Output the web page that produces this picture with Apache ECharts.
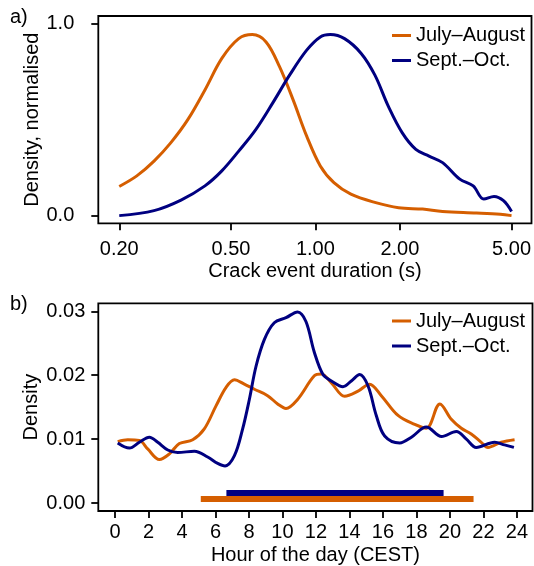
<!DOCTYPE html>
<html>
<head>
<meta charset="utf-8">
<script src="https://cdn.jsdelivr.net/npm/echarts@6/dist/echarts.min.js"></script>
<style>
html,body{margin:0;padding:0;background:#fff;}
#c{width:534px;height:566px;}
</style>
</head>
<body>
<div id="c"></div>
<script>
// ---- Panel a) crack event duration densities (normalised) ----
const durJA  = [0.2,0.231,0.266,0.305,0.351,0.404,0.464,0.533,0.596,0.667,0.745,0.833,0.931,1.041,1.164,1.338,1.628,1.98,2.41,2.84,3.75,4.56,5.0];
const densJA = [0.152,0.207,0.284,0.379,0.5,0.655,0.819,0.922,0.943,0.905,0.776,0.603,0.414,0.259,0.172,0.112,0.069,0.041,0.034,0.022,0.014,0.007,0.0];
const durSO  = [0.2,0.266,0.332,0.404,0.464,0.533,0.613,0.704,0.81,0.931,1.041,1.13,1.27,1.456,1.628,1.82,2.04,2.28,2.54,2.84,3.27,3.65,3.98,4.33,4.68,5.0];
const densSO = [0,0.026,0.081,0.155,0.233,0.336,0.448,0.586,0.733,0.862,0.931,0.943,0.922,0.845,0.733,0.569,0.431,0.345,0.31,0.276,0.19,0.155,0.086,0.1,0.078,0.022];
const durTicks = [0.2,0.5,1,2,5];
const normTicks = [0,1];

// ---- Panel b) hour of day densities ----
const hourJA  = [0.16,0.76,1.45,1.95,2.65,3.25,3.84,4.64,5.33,6.03,6.63,7.13,7.72,8.32,9.11,9.71,10.21,10.9,11.9,12.32,12.92,13.71,14.51,15.2,15.9,16.9,17.9,18.59,19.4,20.08,20.68,21.27,21.87,22.27,23.06,23.86];
const hdensJA = [0.0096,0.0099,0.0098,0.00846,0.0068,0.0077,0.0093,0.0099,0.0116,0.0152,0.0181,0.0193,0.0186,0.0178,0.0168,0.0155,0.0148,0.0162,0.0199,0.0202,0.0188,0.0167,0.0175,0.0186,0.0168,0.0137,0.0123,0.0117,0.0155,0.0131,0.0117,0.0108,0.0095,0.0087,0.0095,0.0099];
const hourSO  = [0.16,0.86,1.45,2.05,2.55,3.15,3.74,4.74,5.53,6.13,6.57,7.13,7.62,8.02,8.42,8.92,9.51,10.21,10.9,11.4,11.9,12.42,12.92,13.61,14.11,14.61,15.11,15.6,16.1,17.0,17.7,18.59,19.5,20.38,20.98,21.57,22.67,23.26,23.82];
const hdensSO = [0.0094,0.0086,0.0095,0.0103,0.0095,0.0083,0.0079,0.0081,0.0072,0.0062,0.0058,0.0074,0.0116,0.0162,0.0214,0.0256,0.0282,0.0290,0.0299,0.0284,0.0236,0.0201,0.0191,0.0182,0.0191,0.0201,0.0183,0.0137,0.0105,0.0094,0.0103,0.0119,0.0104,0.0112,0.0100,0.0087,0.0095,0.0091,0.0087];
const hourTicks = [0,2,4,6,8,10,12,14,16,18,20,22,24];
const densTicks = [0,0.01,0.02,0.03];
// activity ranges (bars) and their heights
const rangeJA = [5.12,21.41];
const rangeSO = [6.65,19.62];
const rangeLevelJA = 0.00062;
const rangeLevelSO = 0.00156;

const names = ['July–August','Sept.–Oct.'];
const cJA = '#D55E00', cSO = '#000080';
const FONT = "'Liberation Sans', Arial, Helvetica, sans-serif";
const FS = 20;

function zip(a,b){return a.map((v,i)=>[v,b[i]]);}

const chart = echarts.init(document.getElementById('c'), null, {renderer:'canvas'});
const axisCommon = {
  axisLine:{show:false,onZero:false},
  splitLine:{show:false},
  axisTick:{show:true,inside:false,length:7,lineStyle:{color:'#000',width:1.8}},
  nameLocation:'middle',
  nameMoveOverlap:false,
  nameTextStyle:{fontFamily:FONT,fontSize:FS,color:'#000'}
};
const lbl = {fontFamily:FONT,fontSize:FS,color:'#000'};
const legendCommon = {data:names,orient:'vertical',left:392,icon:'rect',itemWidth:19,itemHeight:3,itemGap:5,padding:0,
  textStyle:{fontFamily:FONT,fontSize:FS,color:'#000',lineHeight:20},selectedMode:false};

chart.setOption({
  animation:false,
  backgroundColor:'#fff',
  textStyle:{fontFamily:FONT},
  grid:[
    {left:98.3,right:1.5,top:16,height:207.3,show:true,borderColor:'#000',borderWidth:1.8,containLabel:false},
    {left:98.3,right:1.5,top:303.3,height:208.7,show:true,borderColor:'#000',borderWidth:1.8,containLabel:false}
  ],
  legend:[
    Object.assign({},legendCommon,{top:25.5}),
    Object.assign({},legendCommon,{top:311})
  ],
  xAxis:[
    Object.assign({},axisCommon,{gridIndex:0,type:'log',logBase:10,min:0.1684,max:5.89,
      name:'Crack event duration (s)',nameGap:38.5,
      axisTick:Object.assign({},axisCommon.axisTick,{customValues:durTicks}),
      axisLabel:Object.assign({},lbl,{margin:16,customValues:durTicks,formatter:v=>Number(v).toFixed(2)})}),
    Object.assign({},axisCommon,{gridIndex:1,type:'value',min:-1,max:24.93,
      name:'Hour of the day (CEST)',nameGap:34,
      axisTick:Object.assign({},axisCommon.axisTick,{customValues:hourTicks}),
      axisLabel:Object.assign({},lbl,{margin:11,customValues:hourTicks,formatter:v=>String(Math.round(v))})})
  ],
  yAxis:[
    Object.assign({},axisCommon,{gridIndex:0,type:'value',min:-0.04,max:1.04,
      name:'Density, normalised',nameGap:56,
      axisTick:Object.assign({},axisCommon.axisTick,{customValues:normTicks}),
      axisLabel:Object.assign({},lbl,{margin:24,customValues:normTicks,formatter:v=>Number(v).toFixed(1)})}),
    Object.assign({},axisCommon,{gridIndex:1,type:'value',min:-0.00125,max:0.03125,
      name:'Density',nameGap:57,
      axisTick:Object.assign({},axisCommon.axisTick,{customValues:densTicks}),
      axisLabel:Object.assign({},lbl,{margin:13,customValues:densTicks,formatter:v=>Number(v).toFixed(2)})})
  ],
  graphic:[
    {type:'text',left:10,top:7,style:{text:'a)',font:FS+'px '+FONT,fill:'#000'}},
    {type:'text',left:10,top:294,style:{text:'b)',font:FS+'px '+FONT,fill:'#000'}}
  ],
  series:[
    {name:names[0],type:'line',xAxisIndex:0,yAxisIndex:0,data:zip(durJA,densJA),smooth:0.35,showSymbol:false,symbol:'none',
     lineStyle:{color:cJA,width:3},itemStyle:{color:cJA}},
    {name:names[1],type:'line',xAxisIndex:0,yAxisIndex:0,data:zip(durSO,densSO),smooth:0.35,showSymbol:false,symbol:'none',
     lineStyle:{color:cSO,width:3},itemStyle:{color:cSO}},
    {name:names[0],type:'line',xAxisIndex:1,yAxisIndex:1,data:zip(hourJA,hdensJA),smooth:0.35,showSymbol:false,symbol:'none',
     lineStyle:{color:cJA,width:3},itemStyle:{color:cJA}},
    {name:names[1],type:'line',xAxisIndex:1,yAxisIndex:1,data:zip(hourSO,hdensSO),smooth:0.35,showSymbol:false,symbol:'none',
     lineStyle:{color:cSO,width:3},itemStyle:{color:cSO}},
    {name:'range JA',type:'line',xAxisIndex:1,yAxisIndex:1,data:rangeJA.map(h=>[h,rangeLevelJA]),showSymbol:false,symbol:'none',
     lineStyle:{color:cJA,width:6,cap:'butt'},itemStyle:{color:cJA}},
    {name:'range SO',type:'line',xAxisIndex:1,yAxisIndex:1,data:rangeSO.map(h=>[h,rangeLevelSO]),showSymbol:false,symbol:'none',
     lineStyle:{color:cSO,width:6,cap:'butt'},itemStyle:{color:cSO}}
  ]
});
</script>
</body>
</html>
